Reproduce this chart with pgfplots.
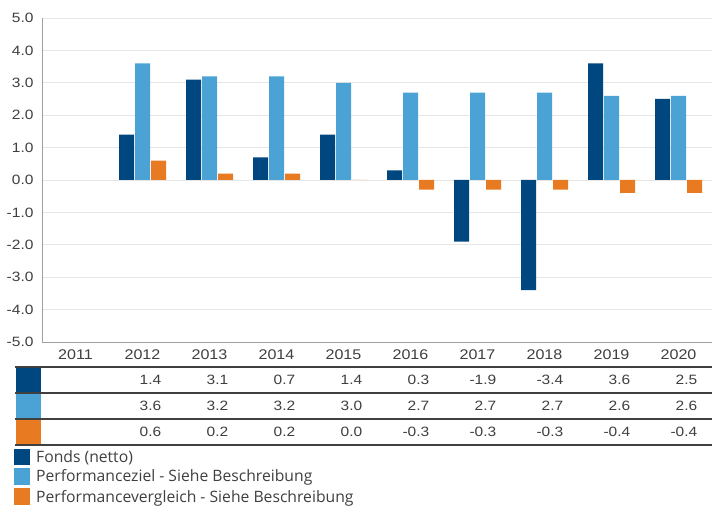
\documentclass[border=0pt]{standalone}
\usepackage{fontspec}
\setmainfont{Liberation Sans}[FakeStretch=1.15]
\newfontfamily\legfont{Open Sans}
\usepackage{pgfplots}
\pgfplotsset{compat=1.18}
\definecolor{cdark}{HTML}{00467F}
\definecolor{clight}{HTML}{4BA3D5}
\definecolor{corange}{HTML}{E87A22}
\definecolor{ctext}{HTML}{404040}
\definecolor{cgrid}{HTML}{E6E6E6}
\definecolor{caxis}{HTML}{A0A0A0}
\begin{document}
\begin{tikzpicture}[x=1pt,y=1pt]
\clip (0,0) rectangle (712,506);
\path[fill=white] (0,0) rectangle (712,506);
\begin{axis}[
  at={(42pt,164pt)}, anchor=south west,
  scale only axis, width=670pt, height=324pt,
  xmin=-0.5, xmax=9.5, ymin=-5, ymax=5,
  ytick={-5,-4,...,5},
  xtick={0,...,9},
  xticklabels={2011,2012,2013,2014,2015,2016,2017,2018,2019,2020},
  /pgf/number format/assume math mode=true,
  yticklabel style={/pgf/number format/fixed,/pgf/number format/fixed zerofill,/pgf/number format/precision=1, font=\fontsize{13.5}{15}\selectfont, text=ctext, anchor=east, xshift=-5pt},
  xticklabel style={font=\fontsize{14}{16}\selectfont, text=ctext, anchor=north, yshift=-4.5pt},
  major tick length=0pt,
  axis x line*=bottom, axis y line*=left,
  axis line style={caxis, line width=0.8pt},
  ymajorgrids, grid style={cgrid, line width=0.8pt},
  ybar=1pt, bar width=15pt,
  clip=false,
]
\addplot[fill=cdark, draw=none] coordinates {(1,1.4) (2,3.1) (3,0.7) (4,1.4) (5,0.3) (6,-1.9) (7,-3.4) (8,3.6) (9,2.5)};
\addplot[fill=clight, draw=none] coordinates {(1,3.6) (2,3.2) (3,3.2) (4,3.0) (5,2.7) (6,2.7) (7,2.7) (8,2.6) (9,2.6)};
\addplot[fill=corange, draw=none] coordinates {(1,0.6) (2,0.2) (3,0.2) (4,0.0) (5,-0.3) (6,-0.3) (7,-0.3) (8,-0.4) (9,-0.4)};
\end{axis}
% data table
\fill[cdark] (16,113) rectangle (41,139);
\fill[clight] (16,87) rectangle (41,113);
\fill[corange] (16,61) rectangle (41,87);
\foreach \yy in {139,113,87,61} {\draw[ctext, line width=1.4pt] (15,\yy) -- (712,\yy);}
\foreach \v [count=\i from 1] in {1.4,3.1,0.7,1.4,0.3,-1.9,-3.4,3.6,2.5}
  {\node[anchor=east, inner sep=0pt, text=ctext, font=\fontsize{13.5}{15}\selectfont] at (\i*67+94.5,126) {\v};}
\foreach \v [count=\i from 1] in {3.6,3.2,3.2,3.0,2.7,2.7,2.7,2.6,2.6}
  {\node[anchor=east, inner sep=0pt, text=ctext, font=\fontsize{13.5}{15}\selectfont] at (\i*67+94.5,100) {\v};}
\foreach \v [count=\i from 1] in {0.6,0.2,0.2,0.0,-0.3,-0.3,-0.3,-0.4,-0.4}
  {\node[anchor=east, inner sep=0pt, text=ctext, font=\fontsize{13.5}{15}\selectfont] at (\i*67+94.5,74) {\v};}
% legend
\fill[cdark] (14,41) rectangle (30,57);
\fill[clight] (14,21) rectangle (30,38);
\fill[corange] (14,1) rectangle (30,18);
\node[anchor=base west, inner sep=0pt, text=ctext, font=\legfont\fontsize{15.7}{17}\selectfont] at (36,43.5) {Fonds (netto)};
\node[anchor=base west, inner sep=0pt, text=ctext, font=\legfont\fontsize{15.7}{17}\selectfont] at (36,24) {Performanceziel - Siehe Beschreibung};
\node[anchor=base west, inner sep=0pt, text=ctext, font=\legfont\fontsize{15.7}{17}\selectfont] at (36,4) {Performancevergleich - Siehe Beschreibung};
\end{tikzpicture}
\end{document}
